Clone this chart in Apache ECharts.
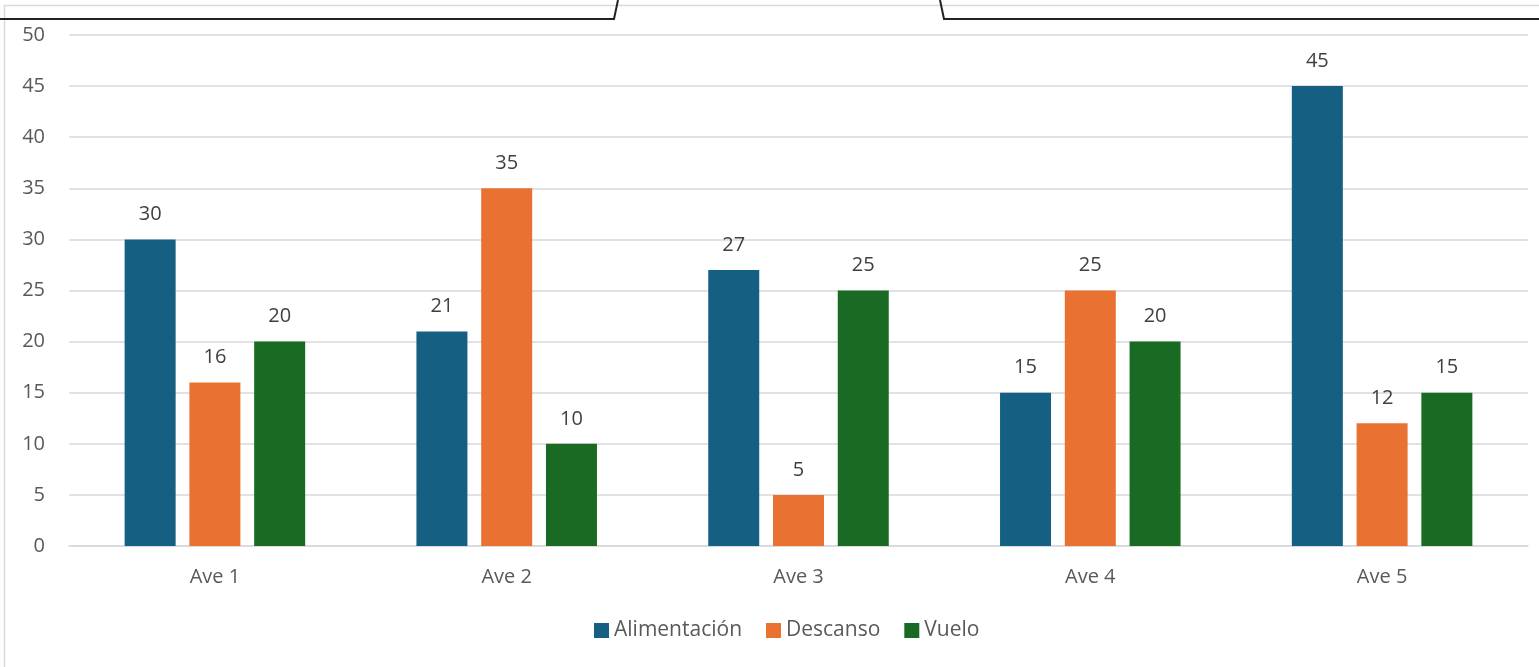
<!DOCTYPE html>
<html>
<head>
<meta charset="utf-8">
<script src="https://cdn.jsdelivr.net/npm/echarts@6/dist/echarts.min.js"></script>
<style>
html,body{margin:0;padding:0;background:#fff;}
#c{width:1539px;height:667px;}
</style>
</head>
<body>
<div id="c"></div>
<script>
const categories = ['Ave 1', 'Ave 2', 'Ave 3', 'Ave 4', 'Ave 5'];
const alimentacion = [30, 21, 27, 15, 45];
const descanso = [16, 35, 5, 25, 12];
const vuelo = [20, 10, 25, 20, 15];
const seriesNames = ['Alimentación', 'Descanso', 'Vuelo'];
const colors = ['#156082', '#E97132', '#196B24'];

const chart = echarts.init(document.getElementById('c'));
const font = '"Open Sans", "Liberation Sans", sans-serif';
const labelStyle = {show: true, position: 'top', distance: 15, color: '#404040', fontSize: 20, fontFamily: font};
function mk(name, data, color) {
  return {name, type: 'bar', data, barWidth: 51, barGap: '27%', itemStyle: {color}, label: labelStyle};
}
chart.setOption({
  animation: false,
  color: colors,
  grid: {left: 69, right: 11, top: 35, bottom: 121},
  legend: {
    bottom: 21, left: 589, itemWidth: 15, itemHeight: 15, itemGap: 24,
    icon: 'rect',
    textStyle: {color: '#595959', fontSize: 21, fontFamily: font},
    data: seriesNames
  },
  xAxis: {
    type: 'category', data: categories,
    axisLine: {lineStyle: {color: '#d9d9d9', width: 1.5}},
    axisTick: {show: false},
    axisLabel: {color: '#595959', fontSize: 20, margin: 21, fontFamily: font}
  },
  yAxis: {
    type: 'value', min: 0, max: 50, interval: 5,
    axisLine: {show: false}, axisTick: {show: false},
    splitLine: {lineStyle: {color: '#d9d9d9', width: 1.5}},
    axisLabel: {color: '#595959', fontSize: 20, margin: 24, fontFamily: font}
  },
  graphic: [
    {type: 'line', shape: {x1: 4, y1: 5.5, x2: 1539, y2: 5.5}, style: {stroke: '#d9d9d9', lineWidth: 1.5}, silent: true},
    {type: 'line', shape: {x1: 4.5, y1: 5, x2: 4.5, y2: 667}, style: {stroke: '#d9d9d9', lineWidth: 1.5}, silent: true},
    {type: 'polyline', shape: {points: [[0, 19], [614, 19], [618, 0]]}, style: {stroke: '#222', lineWidth: 2, fill: null}, silent: true},
    {type: 'polyline', shape: {points: [[940, 0], [944, 19], [1539, 19]]}, style: {stroke: '#222', lineWidth: 2, fill: null}, silent: true}
  ],
  series: [
    mk(seriesNames[0], alimentacion, colors[0]),
    mk(seriesNames[1], descanso, colors[1]),
    mk(seriesNames[2], vuelo, colors[2])
  ]
});
</script>
</body>
</html>
